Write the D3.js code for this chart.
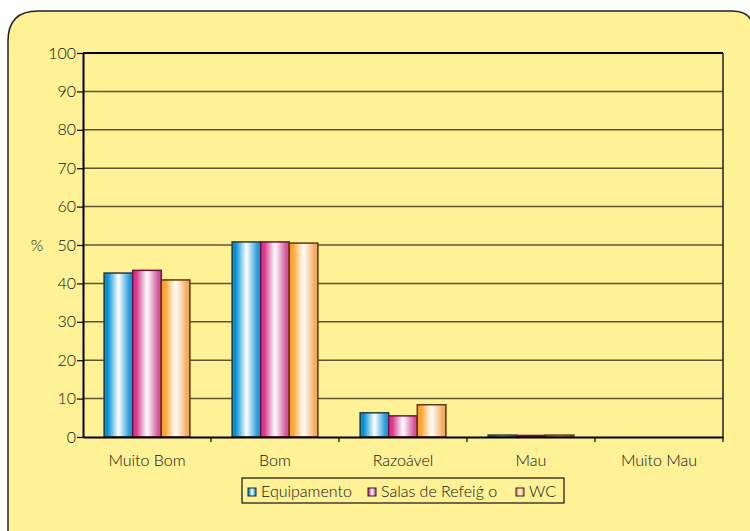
<!DOCTYPE html>
<html>
<head>
<meta charset="utf-8">
<script src="https://cdn.jsdelivr.net/npm/d3@7"></script>
<style>
  body { margin: 0; background: #ffffff; }
  svg { display: block; font-family: "Lato", "Open Sans", sans-serif; }
</style>
</head>
<body>
<div id="chart"></div>
<script>
// data
const categories = ["Muito Bom", "Bom", "Razoável", "Mau", "Muito Mau"]
const seriesNames = ["Equipamento", "Salas de Refeiǵ o", "WC"]
const equipamento = [42.7, 50.8, 6.3, 0.5, 0]
const salas = [43.4, 50.8, 5.5, 0.4, 0]
const wc = [40.9, 50.5, 8.4, 0.5, 0]
const yTicks = [0, 10, 20, 30, 40, 50, 60, 70, 80, 90, 100]

const series = [equipamento, salas, wc]

// colours: left edge, right edge, outline
const palette = [
    { edge: "#0093d8", edge2: "#1d9bd9", stroke: "#2b3a40" },
    { edge: "#d8368a", edge2: "#d2529a", stroke: "#6e0f45" },
    { edge: "#ffa32c", edge2: "#f6aa60", stroke: "#5a3a10" }
]

const W = 750, H = 531
const margin = { left: 83, right: 27, top: 53, bottom: 94 }
const iw = W - margin.left - margin.right
const ih = H - margin.top - margin.bottom
const textColor = "#111"

const svg = d3.select("#chart").append("svg")
    .attr("width", W)
    .attr("height", H)

// gradients
const defs = svg.append("defs")
palette.forEach((p, i) => {
    const g = defs.append("linearGradient")
        .attr("id", "grad" + i)
        .attr("x1", "0%").attr("x2", "100%")
        .attr("y1", "0%").attr("y2", "0%")
    g.append("stop").attr("offset", "0%").attr("stop-color", p.edge)
    g.append("stop").attr("offset", "12%").attr("stop-color", p.edge)
    g.append("stop").attr("offset", "50%").attr("stop-color", "#ffffff")
    g.append("stop").attr("offset", "90%").attr("stop-color", p.edge2)
    g.append("stop").attr("offset", "100%").attr("stop-color", p.edge2)
})

// rounded background panel
svg.append("path")
    .attr("d", "M8,560 L8,41 Q8,11 38,11 L732,11 Q748,11 752,22 L752,560 Z")
    .attr("fill", "#fff196")
    .attr("stroke", "#222")
    .attr("stroke-width", 1.5)

const g = svg.append("g").attr("transform", `translate(${margin.left},${margin.top})`)

const y = d3.scaleLinear().domain([0, 100]).range([ih, 0])
const x0 = d3.scaleBand().domain(categories).range([0, iw]).paddingInner(0).paddingOuter(0)
const x1 = d3.scaleBand().domain(d3.range(series.length))
    .range([x0.bandwidth() * 0.165, x0.bandwidth() * 0.835])

// gridlines
g.append("g")
    .selectAll("line")
    .data(yTicks.filter(t => t > 0 && t < 100))
    .join("line")
    .attr("x1", 0).attr("x2", iw)
    .attr("y1", d => y(d)).attr("y2", d => y(d))
    .attr("stroke", "#5a5535")
    .attr("stroke-width", 1.5)

// bars
const groups = g.append("g")
    .selectAll("g")
    .data(categories)
    .join("g")
    .attr("transform", d => `translate(${x0(d)},0)`)

groups.selectAll("rect")
    .data((d, ci) => series.map((s, si) => ({ si, v: s[ci] })))
    .join("rect")
    .filter(d => d.v > 0)
    .attr("x", d => x1(d.si))
    .attr("width", x1.bandwidth())
    .attr("y", d => y(d.v))
    .attr("height", d => ih - y(d.v))
    .attr("fill", d => `url(#grad${d.si})`)
    .attr("stroke", d => palette[d.si].stroke)
    .attr("stroke-width", 1.5)

// plot frame
g.append("line").attr("x1", 0).attr("x2", iw).attr("y1", 0).attr("y2", 0)
    .attr("stroke", "#000").attr("stroke-width", 2)
g.append("line").attr("x1", iw).attr("x2", iw).attr("y1", 0).attr("y2", ih)
    .attr("stroke", "#222").attr("stroke-width", 1.5)

// y axis
const yAxis = g.append("g")
    .call(d3.axisLeft(y).tickValues(yTicks).tickSize(6).tickSizeOuter(0).tickPadding(1))
yAxis.select(".domain").attr("stroke", "#000").attr("stroke-width", 2)
yAxis.selectAll(".tick line").attr("stroke", "#000").attr("stroke-width", 1.2)
yAxis.selectAll(".tick text")
    .attr("font-size", 16).attr("font-weight", 300)
    .attr("font-family", "Lato, sans-serif")
    .attr("fill", textColor)

// x axis
const xAxis = g.append("g")
    .attr("transform", `translate(0,${ih})`)
    .call(d3.axisBottom(x0).tickSize(0))
xAxis.select(".domain").attr("stroke", "#000").attr("stroke-width", 2)
xAxis.selectAll(".tick text")
    .attr("y", 29).attr("dy", 0)
    .attr("font-size", 16).attr("font-weight", 300)
    .attr("font-family", "Lato, sans-serif")
    .attr("fill", textColor)

// category boundary ticks
xAxis.append("g")
    .selectAll("line")
    .data(d3.range(1, categories.length + 1))
    .join("line")
    .attr("x1", d => x0.step() * d)
    .attr("x2", d => x0.step() * d)
    .attr("y1", 0).attr("y2", 5)
    .attr("stroke", "#000").attr("stroke-width", 1.2)

// y title
svg.append("text")
    .attr("x", 37).attr("y", 251)
    .attr("text-anchor", "middle")
    .attr("font-size", 16).attr("font-weight", 300)
    .attr("fill", textColor)
    .text("%")

// legend
const legend = svg.append("g").attr("transform", "translate(242,478)")
legend.append("rect")
    .attr("width", 322).attr("height", 25)
    .attr("fill", "#fff196")
    .attr("stroke", "#111").attr("stroke-width", 1.2)

const legendX = [6, 126, 274]
const items = legend.selectAll("g.item")
    .data(seriesNames)
    .join("g")
    .attr("class", "item")
    .attr("transform", (d, i) => `translate(${legendX[i]},0)`)

items.append("rect")
    .attr("x", 0).attr("y", 10)
    .attr("width", 8).attr("height", 8)
    .attr("fill", (d, i) => `url(#grad${i})`)
    .attr("stroke", "#222").attr("stroke-width", 1)

items.append("text")
    .attr("x", 13).attr("y", 19)
    .attr("font-size", 16).attr("font-weight", 300)
    .attr("fill", textColor)
    .text(d => d)
</script>
</body>
</html>
